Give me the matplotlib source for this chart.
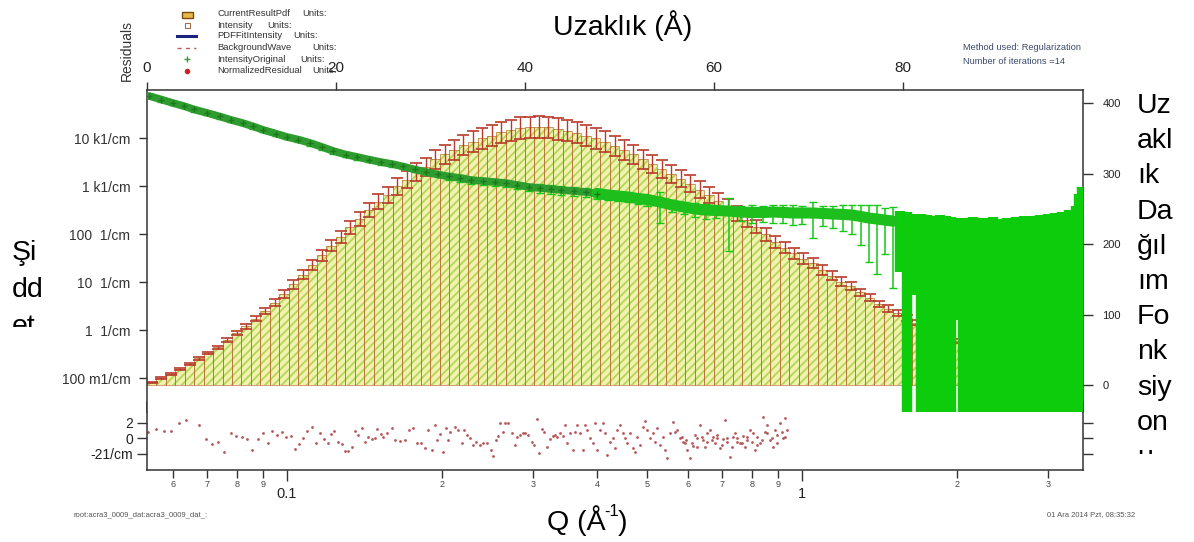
import matplotlib
matplotlib.use("Agg")
import matplotlib.pyplot as plt
import numpy as np
from matplotlib.ticker import FixedLocator, FixedFormatter, NullLocator
from matplotlib.transforms import Bbox, TransformedBbox
from matplotlib.lines import Line2D
from matplotlib.patches import Rectangle

plt.rcParams['font.family'] = ['Liberation Sans', 'DejaVu Sans']
plt.rcParams['hatch.linewidth'] = 1.3

# ---------------- data ----------------
# pair distance distribution (top axis: r in Angstrom, right axis)
pdf_r = [0.5 + i for i in range(97)]
pdf_values = [3.7, 9.9, 15.6, 22.7, 29.6, 37.7, 45.4, 53.7, 63.6, 73.6,
              83.1, 94.1, 105.6, 117.1, 129.6, 143.0, 156.5, 170.9, 184.3, 197.8,
              210.2, 223.7, 236.2, 248.6, 260.2, 269.8, 282.2, 291.8, 302.4, 310.1,
              320.6, 327.4, 334.1, 340.8, 345.6, 350.4, 354.2, 359.0, 361.9, 364.8,
              365.8, 366.7, 365.8, 363.8, 361.0, 358.1, 354.2, 350.4, 345.6, 339.8,
              334.1, 327.4, 320.6, 313.9, 307.2, 299.5, 292.8, 286.1, 277.4, 269.8,
              261.1, 253.4, 243.8, 234.2, 224.6, 214.1, 203.5, 194.9, 187.2, 179.5,
              172.8, 163.2, 155.5, 146.9, 140.2, 131.5, 123.8, 115.2, 108.5, 101.8,
              95.0, 88.3, 81.6, 74.9, 69.1, 62.4, 56.6, 51.8, 48.0, 42.2,
              36.5, 30.7, 25.0, 19.0, 13.0, 7.0, 2.0]
pdf_errors = [1.0, 1.0, 1.0, 1.0, 1.2, 1.6, 1.9, 2.2, 2.7, 3.1,
              3.5, 3.9, 4.4, 4.9, 5.4, 6.0, 6.5, 7.1, 7.7, 8.2,
              8.8, 9.3, 9.8, 10.4, 10.8, 11.2, 11.8, 12.2, 12.6, 12.9,
              13.4, 13.6, 13.9, 14.2, 14.4, 14.6, 14.8, 15.0, 15.1, 15.2,
              15.2, 15.3, 15.2, 15.2, 15.0, 14.9, 14.8, 14.6, 14.4, 14.2,
              13.9, 13.6, 13.4, 13.1, 12.8, 12.5, 12.2, 11.9, 11.6, 11.2,
              10.9, 10.6, 10.2, 9.8, 9.4, 8.9, 8.5, 8.1, 7.8, 7.5,
              7.2, 6.8, 6.5, 6.1, 5.8, 5.5, 5.2, 4.8, 4.5, 4.2,
              4.0, 3.7, 3.4, 3.1, 2.9, 2.6, 2.4, 2.2, 2.0, 1.8,
              1.5, 1.3, 1.0, 1.0, 1.0, 1.0, 1.0]

# measured intensity (bottom axis Q, left axis)
q_data = [0.054, 0.057, 0.060, 0.063, 0.066, 0.070, 0.074, 0.078, 0.082, 0.086,
          0.090, 0.095, 0.100, 0.105, 0.111, 0.117, 0.123, 0.130, 0.137, 0.144,
          0.152, 0.160, 0.168, 0.177, 0.186, 0.196, 0.206, 0.217, 0.228, 0.240,
          0.253, 0.266, 0.280, 0.295, 0.310, 0.325, 0.340, 0.360, 0.380, 0.400,
          0.420, 0.440, 0.460, 0.480, 0.500, 0.530, 0.560, 0.590, 0.620, 0.650,
          0.680, 0.720, 0.760, 0.800, 0.840, 0.880, 0.920, 0.960, 1.00, 1.05,
          1.10, 1.15, 1.20, 1.25, 1.30, 1.35, 1.40, 1.45, 1.50,
          1.55, 1.60, 1.65, 1.70, 1.75, 1.80, 1.85, 1.90, 1.95, 2.00,
          2.05, 2.10, 2.15, 2.20, 2.25, 2.30, 2.35, 2.40, 2.45, 2.50,
          2.55, 2.60, 2.65, 2.70, 2.75, 2.80, 2.85, 2.90, 2.95, 3.00,
          3.05, 3.10, 3.15, 3.20, 3.25, 3.30, 3.35, 3.40, 3.45, 3.50]
i_data = [75000, 63400, 53600, 46400, 39300, 33200, 28100, 23700, 20500, 17400,
          14700, 12400, 10500, 9300, 7870, 6490, 5360, 4530, 4020, 3560,
          3160, 2870, 2550, 2210, 1960, 1740, 1580, 1470, 1330, 1270,
          1210, 1150, 1050, 953, 908, 866, 826, 787, 750, 698,
          649, 617, 590, 549, 523, 464, 402, 365, 332, 316,
          309, 301, 287, 281, 281, 287, 281, 274, 274, 274,
          267, 261, 255, 249, 232, 215, 205, 195, 186,
          160, 140, 132, 125, 120, 118, 114, 112, 110, 108,
          106, 106, 104, 102, 103, 100, 101, 99, 100, 99,
          101, 102, 104, 105, 107, 109, 110, 112, 114, 116,
          118, 121, 124, 128, 134, 142, 156, 180, 330, 470]
i_rel_err = [0.10, 0.10, 0.10, 0.10, 0.10, 0.10, 0.10, 0.10, 0.10, 0.10,
             0.10, 0.10, 0.10, 0.12, 0.12, 0.12, 0.12, 0.12, 0.12, 0.12,
             0.12, 0.12, 0.12, 0.12, 0.12, 0.12, 0.16, 0.16, 0.16, 0.16,
             0.16, 0.16, 0.16, 0.16, 0.22, 0.22, 0.22, 0.22, 0.22, 0.22,
             0.22, 0.22, 0.22, 0.22, 0.25, 0.64, 0.30, 0.28, 0.32, 0.35,
             0.30, 0.85, 0.35, 0.40, 0.38, 0.42, 0.40, 0.45, 0.42, 0.70,
             0.45, 0.50, 0.55, 0.60, 0.75, 0.88, 0.93, 0.80, 0.96,
             0.90, 1.05, 0.96, 1.10, 1.05, 1.02, 1.15, 1.08, 1.03, 0.985,
             1.05, 1.04, 1.20, 1.10, 0.995, 1.15, 1.25, 1.10, 1.02, 1.20,
             1.15, 1.25, 1.10, 1.30, 1.15, 1.20, 1.01, 1.25, 1.15, 1.20,
             1.10, 1.30, 1.15, 1.20, 1.10, 1.25, 1.05, 1.15, 1.10, 1.05]

# normalized residuals of the fit
res_q = [0.0536, 0.0557, 0.0577, 0.0596, 0.0617, 0.0637, 0.0656, 0.0676, 0.0696, 0.0716,
         0.0736, 0.0756, 0.0777, 0.0796, 0.0817, 0.0835, 0.0856, 0.0877, 0.0898, 0.0917,
         0.0937, 0.0958, 0.0978, 0.0996, 0.1017, 0.1038, 0.1057, 0.1076, 0.1095, 0.1117,
         0.1137, 0.1159, 0.1180, 0.1200, 0.1217, 0.1235, 0.1258, 0.1277, 0.1296, 0.1315,
         0.1335, 0.1355, 0.1375, 0.1396, 0.1417, 0.1439, 0.1461, 0.1482, 0.1497, 0.1520,
         0.1538, 0.1566, 0.1596, 0.1620, 0.1657, 0.1695, 0.1728, 0.1759, 0.1785, 0.1817,
         0.1853, 0.1881, 0.1909, 0.1938, 0.1958, 0.1982, 0.2011, 0.2035, 0.2057, 0.2072,
         0.2119, 0.2151, 0.2183, 0.2206, 0.2239, 0.2266, 0.2300, 0.2328, 0.2370, 0.2405,
         0.2449, 0.2485, 0.2515, 0.2545, 0.2572, 0.2591, 0.2622, 0.2650, 0.2690, 0.2730,
         0.2771, 0.2800, 0.2834, 0.2868, 0.2898, 0.2941, 0.2985, 0.3017, 0.3053, 0.3090,
         0.3122, 0.3155, 0.3193, 0.3241, 0.3279, 0.3314, 0.3348, 0.3389, 0.3429, 0.3465,
         0.3502, 0.3544, 0.3586, 0.3624, 0.3662, 0.3706, 0.3750, 0.3789, 0.3829, 0.3875,
         0.3921, 0.3962, 0.4004, 0.4052, 0.4101, 0.4144, 0.4187, 0.4237, 0.4288, 0.4333,
         0.4379, 0.4431, 0.4484, 0.4531, 0.4579, 0.4634, 0.4689, 0.4739, 0.4788, 0.4845,
         0.4904, 0.4955, 0.5007, 0.5067, 0.5128, 0.5182, 0.5236, 0.5299, 0.5363, 0.5419,
         0.5475, 0.5541, 0.5608, 0.5666, 0.5726, 0.5795, 0.5864, 0.5926, 0.5988, 0.6060,
         0.6132, 0.6196, 0.6262, 0.6337, 0.6412, 0.6479, 0.6548, 0.6626, 0.6706, 0.6776,
         0.6847, 0.6929, 0.7012, 0.7086, 0.7160, 0.7246, 0.7333, 0.7410, 0.7488, 0.7577,
         0.7669, 0.7749, 0.7830, 0.7924, 0.8019, 0.8103, 0.8188, 0.8286, 0.8386, 0.8474,
         0.8562, 0.8666, 0.8769, 0.8861, 0.8954, 0.9062, 0.9170, 0.9266, 0.9336,
         0.5838, 0.5952, 0.6105, 0.6243, 0.6384, 0.6530, 0.6676, 0.6827, 0.6981, 0.7139,
         0.7300, 0.7466, 0.7634, 0.7807, 0.7983, 0.8164, 0.8348, 0.8537, 0.8730, 0.8928,
         0.9129, 0.9266]
res_val = [0.81, 1.16, 0.90, 0.94, 1.98, 2.32, 3.60, 1.68, -0.17, -0.77,
           -0.47, -1.76, 0.69, 0.26, 0.09, -0.09, -1.55, -0.17, 0.60, -0.69,
           0.90, 0.39, 0.77, 0.09, 0.26, -1.46, -0.82, 0.04, 0.94, 1.46,
           -0.60, 0.69, -0.17, -0.69, 0.52, 0.94, -0.52, -0.77, -1.63, -1.63,
           -1.12, 0.94, 0.39, 1.33, -0.47, 0.09, -0.17, -0.04, 1.16, 0.52,
           0.17, 0.60, 1.25, -0.26, -0.34, -0.26, 1.03, 1.33, -0.60, -0.69,
           -1.33, 1.03, -1.55, 1.68, -0.26, 0.52, -1.76, 1.25, -0.26, 0.82,
           1.38, 1.03, -0.60, 1.03, 0.39, -0.04, -0.90, -0.47, -0.90, -0.60,
           -0.69, -1.55, -2.32, -0.26, 0.26, 1.98, 0.82, 1.98, 1.98, 0.60,
           -0.90, 0.17, 0.39, 0.60, 0.60, 0.39, -0.47, -0.90, 2.41, -1.98,
           1.12, 0.82, -1.12, -0.17, 0.26, 0.39, 0.09, 0.60, 0.26, 1.68,
           -0.69, 0.60, -1.55, 0.82, 1.68, 0.69, -1.55, 1.68, 1.03, -0.04,
           -0.69, 1.98, -1.55, 1.03, 1.89, 0.69, -2.19, -0.47, -0.04, -1.33,
           1.03, 1.68, 0.69, -0.04, -0.69, 0.60, -1.33, -1.76, 0.17, -0.90,
           1.46, 2.24, 1.03, -0.04, 0.69, -0.47, 1.25, -0.90, 0.09, -1.55,
           -2.62, 0.60, 2.11, 0.82, 1.03, -0.04, -0.47, -0.60, -1.55, -2.62,
           -1.03, 0.39, -0.04, 1.68, -0.26, -1.12, 0.60, 1.03, 0.17, -0.69,
           0.39, -1.33, -0.17, 2.32, -0.47, -2.49, 0.17, 0.60, -0.04, -0.69,
           0.26, -1.12, -0.26, 1.03, 0.60, -1.55, 0.17, -0.69, 2.75, 0.82,
           1.68, -0.26, -1.12, 1.03, 0.39, 1.89, -0.04, 2.54, 1.03,
           0.17, -0.26, -0.69, -1.12, 0.17, -0.47, -0.26, -0.04, -0.90, -0.04,
           -1.12, -0.47, -0.69, 0.17, -0.47, -0.90, -0.26, 0.60, -0.04, -0.69,
           0.82, 0.17]

left_tick_values = [1e4, 1e3, 1e2, 1e1, 1e0, 1e-1]
left_tick_labels = ["10 k1/cm", "1 k1/cm", "100  1/cm", "10  1/cm", "1  1/cm", "100 m1/cm"]
top_tick_values = [0, 20, 40, 60, 80]
right_tick_values = [0, 100, 200, 300, 400]
q_major_ticks = [0.1, 1.0]
q_major_labels = ["0.1", "1"]
q_minor_ticks = [0.06, 0.07, 0.08, 0.09, 0.2, 0.3, 0.4, 0.5, 0.6, 0.7, 0.8, 0.9, 2.0, 3.0]
q_minor_labels = ["6", "7", "8", "9", "2", "3", "4", "5", "6", "7", "8", "9", "2", "3"]
res_tick_values = [2, 0, -2]
res_tick_labels = ["2", "0", "-21/cm"]

# ---------------- layout helpers ----------------
W, H = 1194, 542
fig = plt.figure(figsize=(W / 100, H / 100), dpi=100)
fig.patch.set_facecolor("white")


def fx(px):
    return px / W


def fy(py):
    return 1 - py / H


X0, X1 = 147, 1083
MAIN_TOP, MAIN_BOT = 90, 412
RES_TOP, RES_BOT = 402, 470
AX_COLOR = "#333333"

main_rect = [fx(X0), fy(MAIN_BOT), (X1 - X0) / W, (MAIN_BOT - MAIN_TOP) / H]
res_rect = [fx(X0), fy(RES_BOT), (X1 - X0) / W, (RES_BOT - RES_TOP) / H]

ax_res = fig.add_axes(res_rect)
ax_pdf = fig.add_axes(main_rect)
ax = fig.add_axes(main_rect)

q_lim = (0.05348, 3.512)

# ---------------- distance distribution bars ----------------
ax_pdf.set_facecolor("white")
ax_pdf.bar(pdf_r, pdf_values, width=1.0, color="#f2f2b0", edgecolor="#b2d657",
           hatch="////", linewidth=0, zorder=1)
ax_pdf.bar(pdf_r, pdf_values, width=1.0, fill=False, edgecolor="#b5652d",
           linewidth=0.45, zorder=2)
ax_pdf.errorbar(pdf_r, pdf_values, yerr=pdf_errors, fmt="none", ecolor="#b83a2a",
                elinewidth=1.0, capsize=4, capthick=1.2, zorder=3)
ax_pdf.set_xlim(0, 99.1)
ax_pdf.set_ylim(-38.3, 418.9)
ax_pdf.xaxis.tick_top()
ax_pdf.yaxis.tick_right()
ax_pdf.xaxis.set_major_locator(FixedLocator(top_tick_values))
ax_pdf.xaxis.set_minor_locator(NullLocator())
ax_pdf.yaxis.set_major_locator(FixedLocator(right_tick_values))
ax_pdf.yaxis.set_minor_locator(NullLocator())
ax_pdf.tick_params(axis="x", which="major", direction="out", length=6, width=1,
                   color=AX_COLOR, labelsize=11, pad=5, labelcolor="#222222")
ax_pdf.tick_params(axis="y", which="major", direction="out", length=7, width=1,
                   color=AX_COLOR, labelsize=8, pad=7, labelcolor="#222222")
for side in ("left", "bottom"):
    ax_pdf.spines[side].set_visible(False)
for side in ("top", "right"):
    ax_pdf.spines[side].set_color(AX_COLOR)
    ax_pdf.spines[side].set_linewidth(1.1)

# ---------------- intensity on log-log axes ----------------
ax.set_facecolor("none")
ax.set_xscale("log")
ax.set_yscale("log")
q_arr = np.array(q_data)
i_arr = np.array(i_data)
err_arr = i_arr * np.array(i_rel_err)
low = q_arr <= 1.5
high = ~low
dark = q_arr <= 0.4
mid = (q_arr >= 0.4) & low
ax.errorbar(q_arr[low], i_arr[low], yerr=err_arr[low], fmt="none", ecolor="#14c814",
            elinewidth=1.1, capsize=3, capthick=1.0, zorder=2)
ax.errorbar(q_arr[high], i_arr[high], yerr=err_arr[high], fmt="none", ecolor="#0ccc0c",
            elinewidth=7.5, capsize=0, zorder=2)
ax.plot(q_arr[dark], i_arr[dark], color="#2f9c2f", linewidth=5.5,
        solid_capstyle="round", zorder=3)
ax.plot(q_arr[mid], i_arr[mid], color="#1cbf1c", linewidth=8,
        solid_capstyle="round", zorder=3)
ax.plot(q_arr[dark], i_arr[dark], linestyle="none", marker="+", markersize=5,
        markeredgewidth=1.0, color="#1a7a1a", zorder=4)
ax.set_xlim(*q_lim)
ax.set_ylim(10 ** -1.708, 1e5)
ax.yaxis.set_major_locator(FixedLocator(left_tick_values))
ax.yaxis.set_major_formatter(FixedFormatter(left_tick_labels))
ax.yaxis.set_minor_locator(NullLocator())
ax.xaxis.set_major_locator(NullLocator())
ax.xaxis.set_minor_locator(NullLocator())
ax.tick_params(axis="y", which="major", direction="out", length=6, width=1,
               color=AX_COLOR, labelsize=10, pad=6, labelcolor="#333333")
for side in ("top", "right", "bottom"):
    ax.spines[side].set_visible(False)
ax.spines["left"].set_color(AX_COLOR)
ax.spines["left"].set_linewidth(1.1)

# ---------------- residual panel ----------------
ax_res.set_facecolor("none")
ax_res.set_xscale("log")
ax_res.plot(res_q, res_val, linestyle="none", marker="o", markersize=2.0,
            markeredgewidth=0, color="#a83a3a", alpha=0.85)
ax_res.set_xlim(*q_lim)
ax_res.set_ylim(-4.13, 4.65)
ax_res.xaxis.set_major_locator(FixedLocator(q_major_ticks))
ax_res.xaxis.set_major_formatter(FixedFormatter(q_major_labels))
ax_res.xaxis.set_minor_locator(FixedLocator(q_minor_ticks))
ax_res.xaxis.set_minor_formatter(FixedFormatter(q_minor_labels))
ax_res.yaxis.set_major_locator(FixedLocator(res_tick_values))
ax_res.yaxis.set_major_formatter(FixedFormatter(res_tick_labels))
ax_res.yaxis.set_minor_locator(NullLocator())
ax_res.tick_params(axis="x", which="major", direction="out", length=8, width=1,
                   color=AX_COLOR, labelsize=10.5, pad=4, labelcolor="#222222")
ax_res.tick_params(axis="x", which="minor", direction="out", length=6, width=1,
                   color=AX_COLOR, labelsize=6.5, pad=1.5, labelcolor="#444444")
ax_res.tick_params(axis="y", which="major", direction="out", length=7, width=1,
                   color=AX_COLOR, labelsize=10, pad=3, labelcolor="#222222",
                   right=True, labelright=False)
ax_res.spines["top"].set_visible(False)
for side in ("left", "right", "bottom"):
    ax_res.spines[side].set_color(AX_COLOR)
    ax_res.spines[side].set_linewidth(1.1)

# ---------------- legend block ----------------
legend_rows = [14, 25, 36, 47.5, 59, 70.5]
legend_names = ["CurrentResultPdf", "Intensity", "PDFFitIntensity",
                "BackgroundWave", "IntensityOriginal", "NormalizedResidual"]
units_x = [302, 267, 293, 312, 300, 312]
for yrow, name, ux in zip(legend_rows, legend_names, units_x):
    fig.text(fx(217), fy(yrow), name, fontsize=6.8, color="#333333",
             ha="left", va="center")
    fig.text(fx(ux), fy(yrow), "Units:", fontsize=6.8, color="#333333",
             ha="left", va="center")

fig.add_artist(Rectangle((fx(182), fy(17.5)), 11 / W, 6 / H, transform=fig.transFigure,
                         facecolor="#e8b84a", edgecolor="#7a4a12", linewidth=1.0))
fig.add_artist(Rectangle((fx(185), fy(27.5)), 5 / W, 5 / H, transform=fig.transFigure,
                         facecolor="white", edgecolor="#a0704a", linewidth=0.8))
fig.add_artist(Line2D([fx(177), fx(196)], [fy(36), fy(36)], transform=fig.transFigure,
                      color="#1a237e", linewidth=2.2))
fig.add_artist(Line2D([fx(177), fx(196)], [fy(47.5), fy(47.5)], transform=fig.transFigure,
                      color="#b86060", linewidth=1.0, linestyle=(0, (3, 3))))
fig.add_artist(Line2D([fx(187)], [fy(59)], transform=fig.transFigure, marker="+",
                      markersize=5, markeredgewidth=1.0, color="#3a9a3a", linestyle="none"))
fig.add_artist(Line2D([fx(187)], [fy(70.5)], transform=fig.transFigure, marker="o",
                      markersize=4, markeredgewidth=0, color="#cc2222", linestyle="none"))

fig.text(fx(127), fy(51), "Residuals", rotation=90, fontsize=10, color="#333333",
         ha="center", va="center")

# ---------------- annotations ----------------
fig.text(fx(963), fy(48), "Method used: Regularization", fontsize=6.7,
         color="#3b4a6b", ha="left", va="center")
fig.text(fx(963), fy(61), "Number of iterations =14", fontsize=6.7,
         color="#3b4a6b", ha="left", va="center")
fig.text(fx(73), fy(515), "root:acra3_0009_dat:acra3_0009_dat_:", fontsize=5.5,
         color="#555555", ha="left", va="center")
fig.text(fx(1047), fy(515), "01 Ara 2014 Pzt, 08:35:32", fontsize=5.5,
         color="#555555", ha="left", va="center")

# ---------------- axis titles ----------------
BIG = 20.5
fig.text(fx(553), fy(35), "Uzaklık (Å)", fontsize=BIG, color="black",
         ha="left", va="baseline")
fig.text(fx(547), fy(530), "Q (Å", fontsize=BIG, color="black",
         ha="left", va="baseline")
fig.text(fx(604), fy(516), "-1", fontsize=12, color="black",
         ha="left", va="baseline")
fig.text(fx(618), fy(530), ")", fontsize=BIG, color="black",
         ha="left", va="baseline")


def wrapped_label(x, baselines, parts, clip_bottom):
    box = TransformedBbox(Bbox([[0, fy(clip_bottom)], [1, 1]]), fig.transFigure)
    for yb, part in zip(baselines, parts):
        t = fig.text(fx(x), fy(yb), part, fontsize=BIG, color="black",
                     ha="left", va="baseline")
        t.set_clip_box(box)
        t.set_clip_on(True)


wrapped_label(12, [260, 297, 334], ["Şi", "dd", "et"], 327)
right_parts = ["Uz", "akl", "ık", "Da", "ğıl", "ım", "Fo", "nk", "siy", "on", "u"]
right_base = [113 + 35.2 * k for k in range(len(right_parts))]
wrapped_label(1137, right_base, right_parts, 454)

fig.savefig("out.png", dpi=100, facecolor="white")
